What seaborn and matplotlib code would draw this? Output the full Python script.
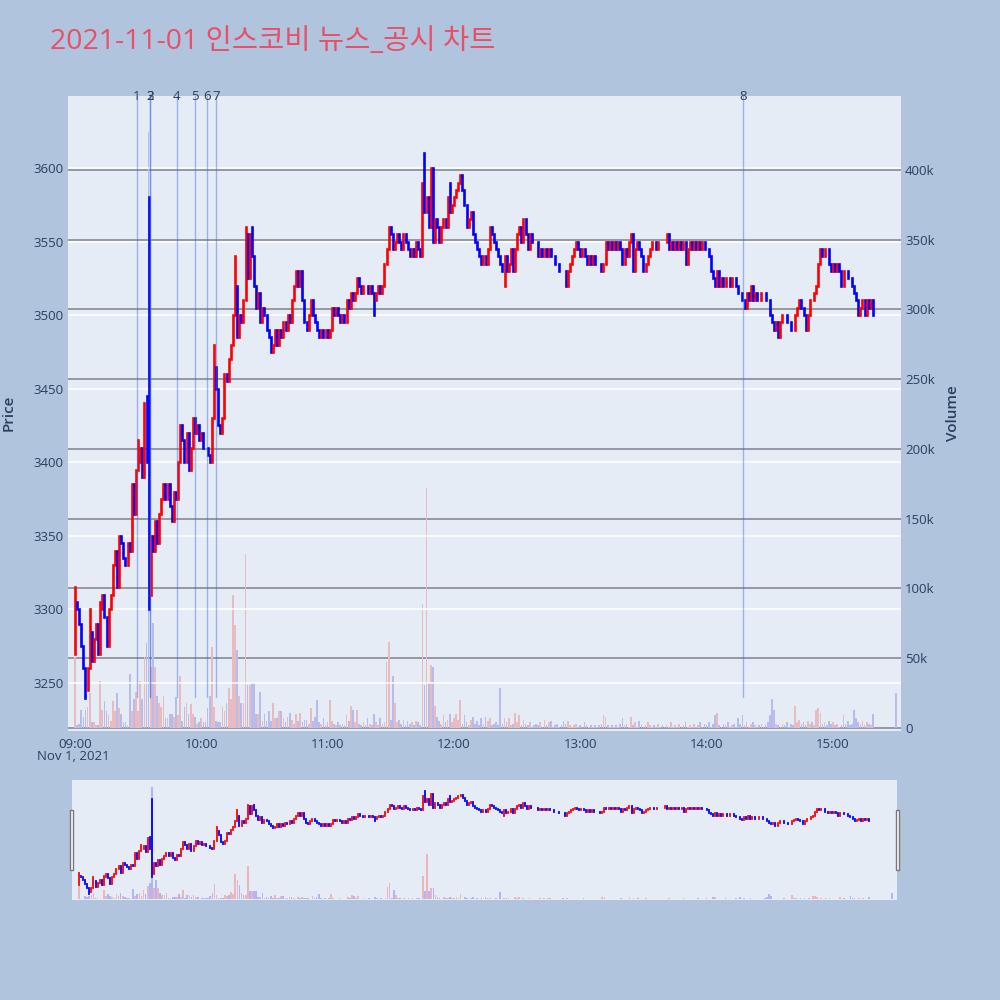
import numpy as np
import pandas as pd
import matplotlib
matplotlib.use("Agg")
import matplotlib.pyplot as plt
import matplotlib.transforms as mtrans
from matplotlib.patches import Rectangle
import seaborn as sns

# ---- data (1-minute candles from 09:00) ----
title = "2021-11-01 인스코비 뉴스_공시 차트"
first_open = 3270
closes = [
    3305, 3300, 3290, 3275, 3260, 3245, 3260, 3285, 3265, 3280,
    3290, 3270, 3300, 3310, 3295, 3275, 3300, 3310, 3330, 3340,
    3315, 3350, 3345, 3335, 3330, 3345, 3340, 3385, 3365, 3395,
    3400, 3410, 3390, 3440, 3400, 3310, 3350, 3340, 3360, 3345,
    3365, 3375, 3385, 3375, 3385, 3370, 3360, 3380, 3375, 3400,
    3425, 3415, 3400, 3420, 3395, 3410, 3430, 3420, 3425, 3415,
    3420, 3410, 3410, 3405, 3400, 3430, 3465, 3450, 3425, 3420,
    3430, 3460, 3455, 3470, 3480, 3500, 3520, 3485, 3500, 3495,
    3510, 3555, 3525, 3555, 3540, 3520, 3505, 3515, 3495, 3505,
    3500, 3490, 3485, 3475, 3480, 3490, 3480, 3490, 3485, 3495,
    3490, 3500, 3495, 3510, 3520, 3530, 3520, 3530, 3510, 3495,
    3490, 3500, 3510, 3500, 3495, 3490, 3485, 3490, 3485, 3490,
    3485, 3490, 3505, 3500, 3505, 3500, 3495, 3500, 3495, 3510,
    3505, 3515, 3510, 3515, 3525, 3520, 3515, 3520, 3520, 3515,
    3520, 3515, 3510, 3515, 3520, 3515, 3520, 3535, 3545, 3560,
    3555, 3545, 3550, 3555, 3550, 3545, 3555, 3550, 3545, 3540,
    3545, 3540, 3550, 3545, 3540, 3590, 3570, 3580, 3560, 3600,
    3550, 3565, 3560, 3550, 3560, 3565, 3560, 3580, 3570, 3575,
    3580, 3585, 3590, 3595, 3585, 3575, 3560, 3565, 3570, 3555,
    3550, 3545, 3540, 3535, 3540, 3535, 3545, 3560, 3555, 3550,
    3545, 3540, 3535, 3530, 3540, 3530, 3535, 3545, 3530, 3545,
    3555, 3560, 3550, 3565, 3555, 3545, 3555, 3550, 3550, 3550,
    3540, 3545, 3540, 3545, 3540, 3545, 3540, 3540, 3535, 3535,
    3530, 3530, 3530, 3520, 3530, 3535, 3540, 3545, 3550, 3545,
    3540, 3545, 3540, 3535, 3540, 3535, 3540, 3535, 3535, 3535,
    3530, 3535, 3550, 3545, 3550, 3545, 3550, 3545, 3550, 3545,
    3535, 3545, 3540, 3550, 3555, 3530, 3545, 3550, 3545, 3540,
    3530, 3535, 3540, 3545, 3550, 3550, 3545, 3550, 3550, 3550,
    3550, 3555, 3545, 3550, 3545, 3550, 3545, 3550, 3545, 3550,
    3535, 3545, 3550, 3545, 3550, 3545, 3550, 3545, 3550, 3545,
    3545, 3540, 3530, 3525, 3520, 3530, 3520, 3525, 3520, 3525,
    3525, 3520, 3525, 3525, 3520, 3515, 3515, 3510, 3505, 3515,
    3510, 3520, 3510, 3515, 3510, 3510, 3515, 3515, 3510, 3510,
    3500, 3495, 3490, 3495, 3485, 3495, 3500, 3500, 3495, 3495,
    3490, 3490, 3500, 3505, 3510, 3505, 3500, 3490, 3500, 3510,
    3510, 3515, 3520, 3535, 3545, 3540, 3545, 3545, 3535, 3530,
    3535, 3530, 3535, 3530, 3520, 3530, 3530, 3525, 3525, 3520,
    3515, 3510, 3500, 3505, 3510, 3500, 3510, 3505, 3510, 3500,
]
wick_high = {0: 3315, 7: 3300, 12: 3305, 30: 3415, 34: 3445, 35: 3580, 66: 3480,
             76: 3540, 81: 3560, 84: 3560, 165: 3590, 166: 3610, 178: 3590, 265: 3555}
wick_low = {5: 3240, 35: 3300, 36: 3310, 142: 3500, 204: 3520}
volumes_k = [
    51, 2, 3, 13, 8, 13, 15, 25, 4, 4,
    2, 2, 34, 13, 19, 12, 9, 5, 19, 12,
    25, 14, 10, 4, 4, 2, 39, 12, 21, 26,
    12, 34, 21, 51, 61, 427, 44, 75, 44, 23,
    18, 15, 23, 7, 7, 10, 10, 8, 22, 9,
    37, 5, 15, 18, 10, 17, 10, 8, 3, 4,
    7, 4, 4, 14, 23, 58, 15, 5, 4, 4,
    15, 12, 18, 29, 21, 95, 74, 56, 23, 18,
    18, 125, 31, 31, 32, 32, 10, 10, 26, 5,
    10, 5, 12, 5, 18, 7, 7, 12, 12, 7,
    4, 8, 11, 6, 3, 10, 5, 11, 4, 6,
    6, 3, 14, 5, 8, 20, 4, 3, 7, 2,
    4, 20, 5, 3, 2, 4, 2, 3, 2, 9,
    5, 16, 13, 4, 13, 3, 2, 4, 2, 7,
    3, 2, 10, 4, 2, 7, 3, 4, 47, 62,
    6, 37, 18, 4, 6, 3, 6, 2, 5, 3,
    4, 2, 5, 4, 2, 89, 31, 172, 32, 45,
    44, 16, 8, 5, 3, 9, 4, 6, 10, 4,
    7, 10, 6, 20, 3, 9, 4, 2, 6, 8,
    3, 5, 2, 7, 3, 8, 5, 7, 2, 3,
    4, 2, 29, 3, 7, 4, 7, 2, 3, 11,
    4, 9, 2, 6, 3, 2, 4, 1, 2, 3,
    2, 4, 1, 6, 2, 4, 5, 1, 2, 3,
    1, 2, 5, 3, 5, 2, 1, 2, 3, 1,
    2, 1, 4, 2, 1, 2, 1, 2, 1, 2,
    3, 9, 8, 2, 1, 2, 1, 2, 1, 3,
    7, 2, 3, 1, 8, 2, 4, 1, 5, 2,
    1, 2, 4, 2, 1, 2, 1, 3, 1, 2,
    1, 2, 1, 4, 1, 2, 1, 3, 1, 2,
    4, 1, 2, 1, 3, 1, 2, 4, 1, 3,
    2, 4, 1, 3, 9, 11, 2, 1, 3, 2,
    4, 1, 2, 3, 1, 7, 3, 9, 2, 4,
    1, 3, 4, 2, 1, 2, 3, 1, 2, 4,
    9, 21, 13, 3, 2, 1, 3, 2, 4, 1,
    3, 2, 16, 4, 6, 3, 4, 2, 5, 3,
    4, 2, 13, 14, 11, 3, 4, 2, 5, 3,
    4, 2, 3, 1, 2, 9, 3, 5, 2, 3,
    13, 7, 4, 3, 5, 2, 4, 3, 2, 10,
]
auction_minute = 390          # 15:30 closing auction
auction_price = 3500
auction_volume_k = 25
news_labels = ["1", "2", "3", "4", "5", "6", "7", "8"]
news_minutes = [29.4, 35.6, 35.7, 48.4, 57.0, 62.7, 67.0, 317.2]
hour_labels = ["09:00", "10:00", "11:00", "12:00", "13:00", "14:00", "15:00"]
price_ticks = [3250, 3300, 3350, 3400, 3450, 3500, 3550, 3600]
volume_ticks = [0, 50000, 100000, 150000, 200000, 250000, 300000, 350000, 400000]
volume_tick_labels = ["0", "50k", "100k", "150k", "200k", "250k", "300k", "350k", "400k"]

assert len(closes) == len(volumes_k)

# ---- build OHLC frame ----
df = pd.DataFrame({"minute": np.arange(len(closes)), "close": closes,
                   "volume": np.array(volumes_k) * 1000})
df["open"] = [first_open] + closes[:-1]
df.loc[len(df)] = {"minute": auction_minute, "close": auction_price,
                   "volume": auction_volume_k * 1000, "open": auction_price}
df["high"] = df[["open", "close"]].max(axis=1)
df["low"] = df[["open", "close"]].min(axis=1)
for m, v in wick_high.items():
    df.loc[m, "high"] = v
for m, v in wick_low.items():
    df.loc[m, "low"] = v
df["dir"] = np.where(df["close"] > df["open"], "up", "down")
candle_cols = np.where(df["dir"] == "up", "#FF0000", "#0000FF")
vol_palette = {"up": "#EEB4BB", "down": "#AFB5F6"}

sns.set_theme(style="white")
plt.rcParams["font.family"] = ["Open Sans", "Noto Sans CJK KR", "DejaVu Sans"]
text_col = "#2a3f5f"

xlim = (-3.3, 392.3)
price_lim = (3217.4, 3648.9)
vol_lim = (-2150, 453000)

fig = plt.figure(figsize=(10, 10), dpi=100)
fig.patch.set_facecolor("#B0C4DE")

# ---- main panel ----
axv = fig.add_axes([0.068, 0.269, 0.833, 0.635])
axv.set_facecolor("#E5ECF6")
axp = axv.twinx()
axp.patch.set_visible(False)

for v in volume_ticks:
    axv.axhline(v, color="#858a94", lw=1.2, zorder=0.5)

sns.barplot(data=df, x="minute", y="volume", hue="dir", palette=vol_palette,
            native_scale=True, dodge=False, width=0.8, errorbar=None,
            legend=False, linewidth=0, edgecolor="none", orient="x", ax=axv, zorder=2)

for p in price_ticks:
    axp.axhline(p, color="white", lw=1.1, zorder=0)
lc = axp.vlines(df["minute"], df["low"], df["high"], colors=candle_cols, lw=1.9, zorder=3)
lc.set_capstyle("projecting")

for lab, m in zip(news_labels, news_minutes):
    axp.axvline(m, ymin=0.054, ymax=1, color=(0.25, 0.41, 0.88, 0.45), lw=1, zorder=4)
    axp.text(m, 1.0, lab, transform=mtrans.blended_transform_factory(axp.transData, axp.transAxes),
             ha="center", va="center", fontsize=9.5, color=text_col, zorder=5)

axv.set_xlim(xlim)
axv.set_ylim(vol_lim)
axp.set_ylim(price_lim)
axp.yaxis.tick_left()
axv.yaxis.tick_right()
axp.set_yticks(price_ticks)
axp.set_yticklabels([str(p) for p in price_ticks])
axv.set_yticks(volume_ticks)
axv.set_yticklabels(volume_tick_labels)
axv.set_xticks(range(0, 361, 60))
axv.set_xticklabels(hour_labels)
axv.set_xlabel("")
axv.set_ylabel("")
for a in (axv, axp):
    a.tick_params(length=0, labelsize=9.5, labelcolor=text_col, pad=3)
    for s in a.spines.values():
        s.set_visible(False)
axv.tick_params(axis="x", pad=5)

fig.text(0.073, 0.243, "Nov 1, 2021", ha="center", va="center", fontsize=9.5, color=text_col)
fig.text(0.009, 0.587, "Price", rotation=90, ha="center", va="center",
         fontsize=11, color=text_col, weight="semibold")
fig.text(0.953, 0.587, "Volume", rotation=90, ha="center", va="center",
         fontsize=11, color=text_col, weight="semibold")
fig.text(0.05, 0.958, title, ha="left", va="center", fontsize=20.5, color="#E8506A")

# ---- range slider ----
axs = fig.add_axes([0.072, 0.1, 0.825, 0.12])
axs.set_facecolor("#E5ECF6")
axs.bar(df["minute"], df["volume"], width=0.8,
        color=[vol_palette[d] for d in df["dir"]], linewidth=0)
axs2 = axs.twinx()
lc2 = axs2.vlines(df["minute"], df["low"], df["high"], colors=candle_cols, lw=1.3)
lc2.set_capstyle("projecting")
axs.set_xlim(xlim)
axs.set_ylim(vol_lim)
axs2.set_ylim(price_lim)
for a in (axs, axs2):
    a.set_xticks([])
    a.set_yticks([])
    for s in a.spines.values():
        s.set_visible(False)
for x0 in (0.0695, 0.8955):
    fig.add_artist(Rectangle((x0, 0.13), 0.0035, 0.06, transform=fig.transFigure,
                             facecolor="white", edgecolor="#777777", lw=1))

fig.savefig("out.png", dpi=100, facecolor=fig.get_facecolor())
